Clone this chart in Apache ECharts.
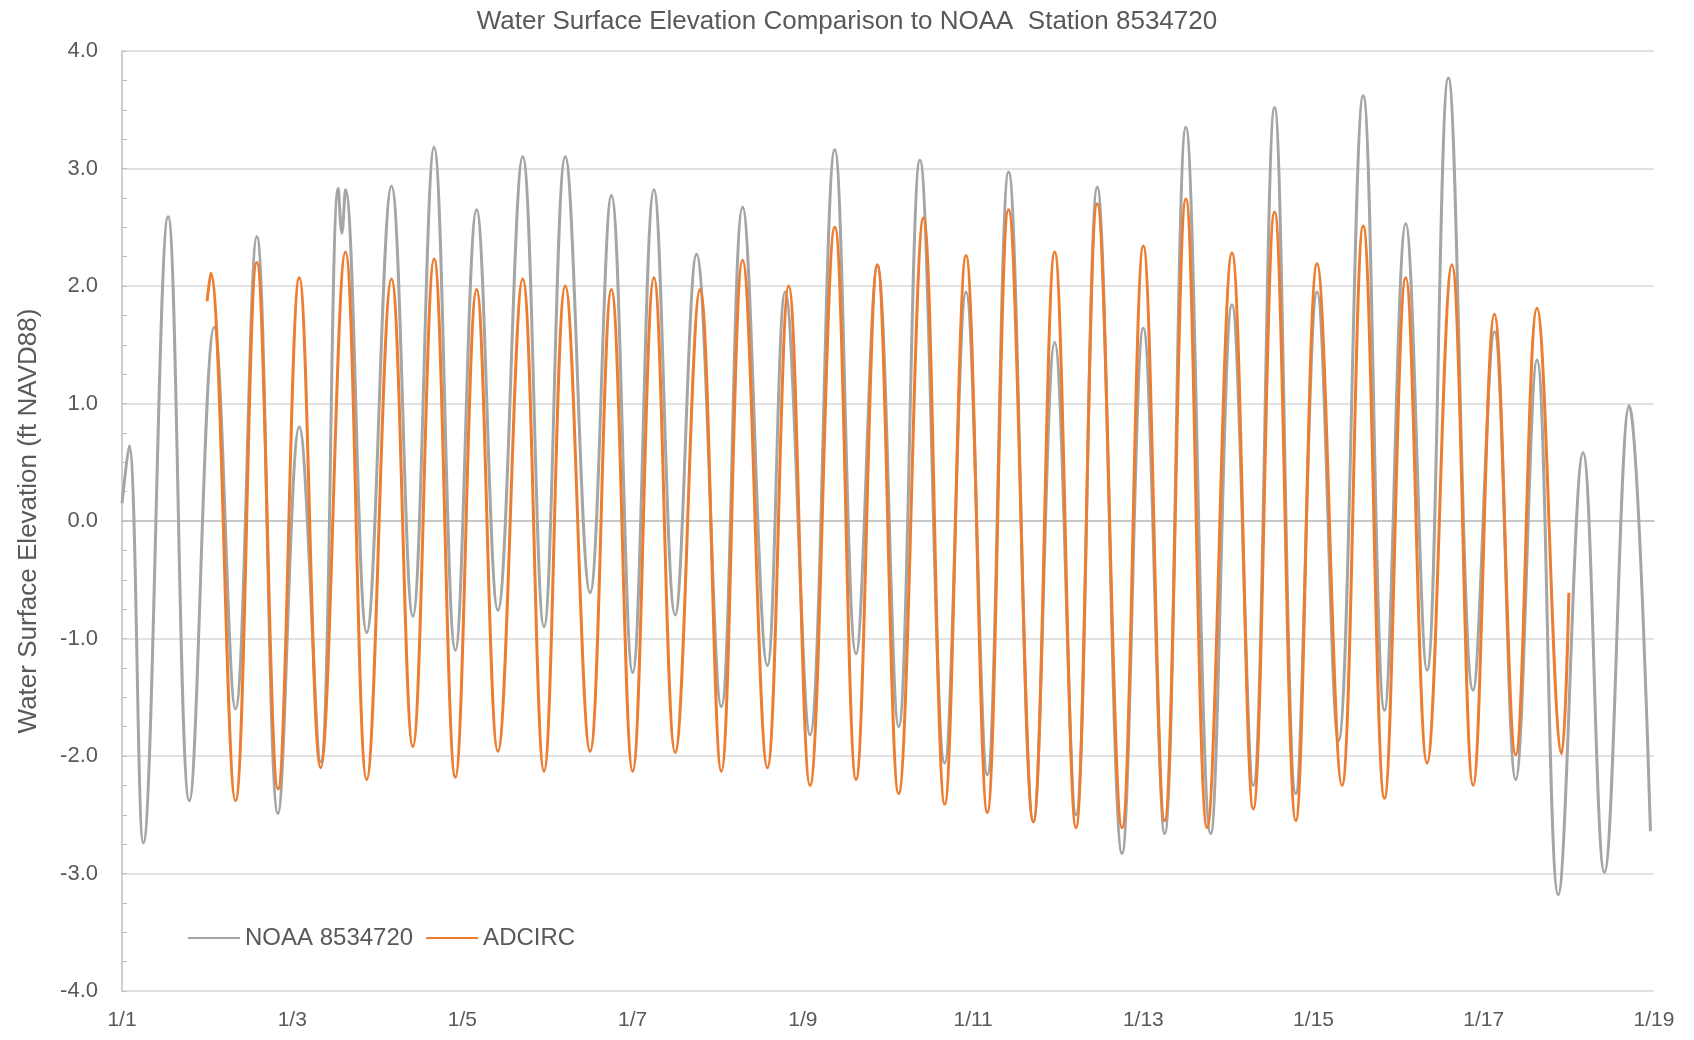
<!DOCTYPE html>
<html>
<head>
<meta charset="utf-8">
<title>Water Surface Elevation Comparison</title>
<script src="https://cdn.jsdelivr.net/npm/echarts@6/dist/echarts.min.js"></script>
<style>
  html, body { margin: 0; padding: 0; background: #fff; }
  #chart { width: 1694px; height: 1040px; }
</style>
</head>
<body>
<div id="chart"></div>
<script>
// hours after 1/1 00:00, tidal highs and lows
var noaaHours = [0, 2, 6, 13, 19, 26, 32, 38, 44, 50, 56, 61, 62, 63, 69, 76, 82, 88, 94, 100, 106, 113, 119, 125, 132, 138, 144, 150, 156, 162, 169, 175, 182, 187, 194, 201, 207, 213, 219, 225, 232, 238, 244, 250, 257, 263, 269, 275, 282, 288, 294, 300, 307, 313, 319, 325, 331, 337, 343, 350, 356, 362, 368, 374, 381, 387, 393, 399, 405, 412, 418, 425, 431];
var noaaLevels = [0.15, 0.64, -2.74, 2.59, -2.38, 1.65, -1.6, 2.42, -2.49, 0.8, -2.05, 2.83, 2.45, 2.82, -0.95, 2.85, -0.81, 3.18, -1.1, 2.65, -0.76, 3.1, -0.9, 3.1, -0.61, 2.77, -1.29, 2.82, -0.8, 2.27, -1.58, 2.67, -1.23, 1.95, -1.82, 3.16, -1.13, 2.17, -1.75, 3.07, -2.06, 1.95, -2.16, 2.97, -2.56, 1.52, -2.5, 2.84, -2.83, 1.64, -2.66, 3.35, -2.66, 1.84, -2.25, 3.52, -2.32, 1.95, -1.87, 3.62, -1.61, 2.53, -1.27, 3.77, -1.44, 1.61, -2.2, 1.37, -3.18, 0.58, -2.99, 0.98, -2.64];

var adcircHours = [24, 25, 32, 38, 44, 50, 56, 63, 69, 76, 82, 88, 94, 100, 106, 113, 119, 125, 132, 138, 144, 150, 156, 163, 169, 175, 182, 188, 194, 201, 207, 213, 219, 226, 232, 238, 244, 250, 257, 263, 269, 275, 282, 288, 294, 300, 306, 313, 319, 325, 331, 337, 344, 350, 356, 362, 368, 375, 381, 387, 393, 399, 406, 408];
var adcircLevels = [1.87, 2.11, -2.38, 2.2, -2.28, 2.07, -2.1, 2.29, -2.2, 2.06, -1.92, 2.23, -2.18, 1.97, -1.96, 2.06, -2.13, 2.0, -1.96, 1.97, -2.13, 2.07, -1.97, 1.97, -2.13, 2.22, -2.1, 2.0, -2.25, 2.5, -2.2, 2.18, -2.32, 2.58, -2.41, 2.26, -2.48, 2.65, -2.56, 2.29, -2.61, 2.7, -2.61, 2.34, -2.55, 2.74, -2.61, 2.28, -2.45, 2.63, -2.55, 2.19, -2.25, 2.51, -2.36, 2.07, -2.06, 2.18, -2.25, 1.76, -1.99, 1.81, -1.98, -0.61];

var seriesNames = ['NOAA 8534720', 'ADCIRC'];

function pairs(xs, ys) {
  var out = [];
  for (var i = 0; i < xs.length; i++) {
    out.push([xs[i], ys[i]]);
  }
  return out;
}

var textColor = '#595959';
var fontFamily = '"Liberation Sans", Arial, sans-serif';

var chart = echarts.init(document.getElementById('chart'));
chart.setOption({
  animation: false,
  textStyle: { fontFamily: fontFamily, color: textColor },
  title: {
    text: 'Water Surface Elevation Comparison to NOAA  Station 8534720',
    left: 'center',
    top: 4,
    textStyle: { fontSize: 26, fontWeight: 'normal', color: textColor, fontFamily: fontFamily }
  },
  grid: { left: 122, right: 40, top: 51, bottom: 49 },
  legend: {
    left: 182,
    top: 921,
    itemWidth: 52,
    itemHeight: 14,
    itemGap: 12,
    itemStyle: { opacity: 0 },
    textStyle: { fontSize: 24, color: textColor, fontFamily: fontFamily },
    data: seriesNames
  },
  xAxis: {
    type: 'value',
    min: 0,
    max: 432,
    interval: 48,
    splitLine: { show: false },
    axisLine: { show: true, lineStyle: { color: '#bfbfbf', width: 1.5 } },
    axisTick: { show: false },
    axisLabel: {
      fontSize: 21,
      color: textColor,
      margin: 19,
      formatter: function (v) { return '1/' + (v / 24 + 1); }
    }
  },
  yAxis: {
    type: 'value',
    min: -4,
    max: 4,
    interval: 1,
    name: 'Water Surface Elevation (ft NAVD88)',
    nameLocation: 'middle',
    nameGap: 80,
    nameTextStyle: { fontSize: 26, color: textColor, fontFamily: fontFamily },
    axisLine: { show: true, lineStyle: { color: '#bfbfbf', width: 1.5 } },
    axisTick: { show: true, inside: true, length: 5, lineStyle: { color: '#bfbfbf' } },
    minorTick: { show: true, splitNumber: 4, length: 5, lineStyle: { color: '#bfbfbf' } },
    splitLine: { show: true, lineStyle: { color: '#d9d9d9', width: 1.5 } },
    axisLabel: {
      fontSize: 22,
      color: textColor,
      margin: 24,
      formatter: function (v) { return v.toFixed(1); }
    }
  },
  series: [
    {
      name: seriesNames[0],
      type: 'line',
      data: pairs(noaaHours, noaaLevels),
      symbol: 'none',
      smooth: 0.4,
      lineStyle: { color: '#a5a5a5', width: 3 },
      itemStyle: { color: '#a5a5a5' }
    },
    {
      name: seriesNames[1],
      type: 'line',
      data: pairs(adcircHours, adcircLevels),
      symbol: 'none',
      smooth: 0.4,
      lineStyle: { color: '#ed7d31', width: 3 },
      itemStyle: { color: '#ed7d31' }
    }
  ]
});
</script>
</body>
</html>
